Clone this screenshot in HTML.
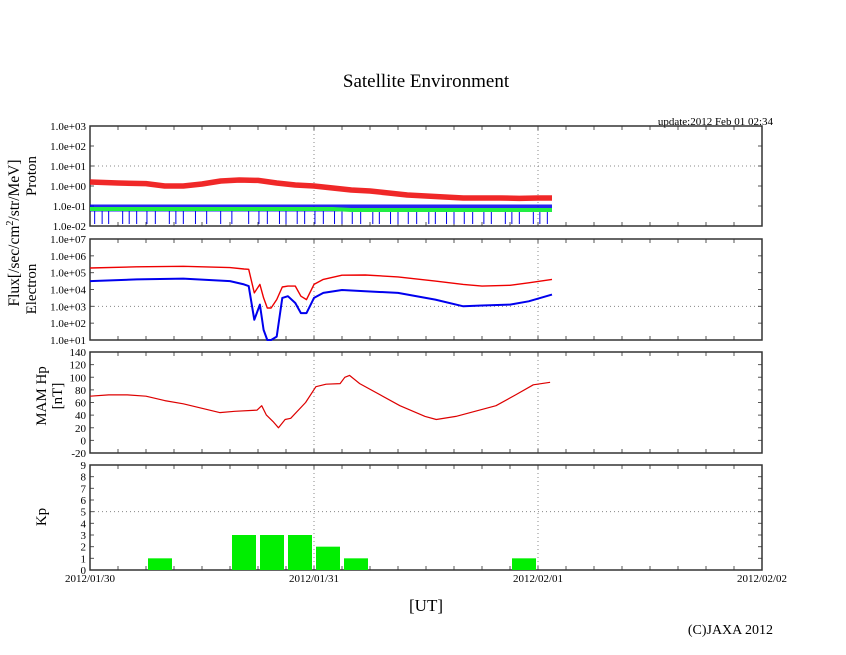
<!DOCTYPE html>
<html><head><meta charset="utf-8"><style>
html,body{margin:0;padding:0;background:#fff;}
svg{display:block;font-family:"Liberation Serif",serif;}
</style></head><body>
<svg id="chart" width="846" height="655" xmlns="http://www.w3.org/2000/svg">
<text x="426" y="87" font-size="19" text-anchor="middle">Satellite Environment</text>
<text x="773" y="125" font-size="11" text-anchor="end">update:2012 Feb 01 02:34</text>
<text x="426" y="611" font-size="17" text-anchor="middle">[UT]</text>
<text x="773" y="634" font-size="14" text-anchor="end">(C)JAXA 2012</text>
<text transform="translate(19,233) rotate(-90)" font-size="15.5" text-anchor="middle">Flux[/sec/cm<tspan font-size="10" dy="-6">2</tspan><tspan dy="6">/str/MeV]</tspan></text>
<text transform="translate(36,176) rotate(-90)" font-size="15" text-anchor="middle">Proton</text>
<text transform="translate(36,289) rotate(-90)" font-size="15" text-anchor="middle">Electron</text>
<text transform="translate(46,396) rotate(-90)" font-size="15" text-anchor="middle">MAM Hp</text>
<text transform="translate(62,396) rotate(-90)" font-size="15" text-anchor="middle">[nT]</text>
<text transform="translate(46,517) rotate(-90)" font-size="15" text-anchor="middle">Kp</text>
<g id="g"></g>
</svg>
<script>
// x data in hours from 2012/01/30 00:00 UT
const xTickLabels = ["2012/01/30","2012/01/31","2012/02/01","2012/02/02"];
const protonTicks = ["1.0e-02","1.0e-01","1.0e+00","1.0e+01","1.0e+02","1.0e+03"];
const electronTicks = ["1.0e+01","1.0e+02","1.0e+03","1.0e+04","1.0e+05","1.0e+06","1.0e+07"];
const hpTicks = [-20,0,20,40,60,80,100,120,140];
const kpTicks = [0,1,2,3,4,5,6,7,8,9];

const protonHours = [0,3,6,8,10,12,14,16,18,20,22,24,26,28,30,32,34,36,38,40,42,44,46,48,49.5];
const protonRedLog = [0.2,0.15,0.12,0.0,0.0,0.1,0.25,0.3,0.28,0.15,0.05,0.0,-0.1,-0.2,-0.25,-0.35,-0.45,-0.5,-0.55,-0.6,-0.6,-0.6,-0.62,-0.6,-0.6];
const protonBlueLog = [-1.1,-1.1,-1.1,-1.1,-1.1,-1.1,-1.1,-1.1,-1.1,-1.1,-1.1,-1.1,-1.1,-1.1,-1.1,-1.1,-1.1,-1.1,-1.1,-1.1,-1.1,-1.1,-1.1,-1.1,-1.1];
const protonGreenLog = [-1.15,-1.15,-1.15,-1.15,-1.15,-1.15,-1.15,-1.15,-1.15,-1.15,-1.15,-1.15,-1.15,-1.2,-1.2,-1.2,-1.2,-1.2,-1.2,-1.2,-1.2,-1.2,-1.2,-1.2,-1.2];
const blueSpikeHours = [0.5,1.3,2,3.5,4.2,5,6.1,7,8.5,9.2,10,11.3,12.5,14,15.2,17,18.1,19,20.3,21,22.2,23,24.1,25,26.2,27,28.1,29,30.3,31,32.2,33,34.1,35,36.3,37,38.2,39,40.1,41,42.2,43,44.5,45.2,46,47.5,48.2,49];

const elecHours = [0,5,10,15,16.5,17,17.6,18.2,18.6,19,19.4,20,20.6,21.2,22,22.6,23.2,24,25,27,29.5,33,37,40,42,45,47,49.5];
const elecRedLog = [5.28,5.35,5.38,5.3,5.22,5.2,3.8,4.3,3.5,2.9,2.9,3.4,4.15,4.2,4.2,3.6,3.4,4.3,4.6,4.85,4.86,4.75,4.5,4.3,4.2,4.25,4.4,4.6];
const elecBlueLog = [4.5,4.6,4.65,4.5,4.3,4.2,2.2,3.1,1.6,1.0,1.0,1.2,3.5,3.6,3.2,2.6,2.6,3.5,3.8,3.97,3.9,3.8,3.4,3.0,3.05,3.1,3.3,3.7];

const hpHours = [0,2,4,6,8,10,13.9,15.5,17.9,18.4,18.9,19.6,20.2,20.9,21.5,23.1,24.2,25.3,26.8,27.3,27.8,28.9,33.2,35.9,37.1,39.2,43.5,45.6,47.5,49.3];
const hpValues = [70,72,72,70,63,58,44,46,48,55,40,30,20,33,35,60,85,89,90,100,103,90,55,38,33,38,55,72,88,92];

const kpValues = [0,0,1,0,0,3,3,3,2,1,0,0,0,0,0,1];

const NS="http://www.w3.org/2000/svg";
const G=document.getElementById('g');
const X0=90,X1=762;
const xs=h=>X0+h*(X1-X0)/72;
function el(tag,attrs,parent){const e=document.createElementNS(NS,tag);for(const k in attrs)e.setAttribute(k,attrs[k]);(parent||G).appendChild(e);return e;}

const panels=[
 {name:'proton',top:126,bot:226,min:-2,max:3},
 {name:'electron',top:239,bot:340,min:1,max:7},
 {name:'mam-hp',top:352,bot:453,min:-20,max:140},
 {name:'kp',top:465,bot:570,min:0,max:9}
];
panels.forEach(p=>{p.y=v=>p.bot-(v-p.min)*(p.bot-p.top)/(p.max-p.min);});

function frame(p,ticks,labels,gridVals){
  [24,48].forEach(h=>{const l=el('line',{x1:xs(h),x2:xs(h),y1:p.top,y2:p.bot,stroke:'#888','stroke-dasharray':'1,3'});
    
    });
  gridVals.forEach(v=>{const l=el('line',{x1:X0,x2:X1,y1:p.y(v),y2:p.y(v),stroke:'#888','stroke-dasharray':'1,3'});
    
    });
  for(let h=3;h<72;h+=3){
    el('line',{x1:xs(h),x2:xs(h),y1:p.top,y2:p.top+4,stroke:'#555'});
    el('line',{x1:xs(h),x2:xs(h),y1:p.bot,y2:p.bot-4,stroke:'#555'});
  }
  ticks.forEach((v,i)=>{
    const y=p.y(v);
    el('line',{x1:X0,x2:X0+4,y1:y,y2:y,stroke:'#555'});
    el('line',{x1:X1,x2:X1-4,y1:y,y2:y,stroke:'#555'});
    const t=el('text',{x:86,y:y+4,'font-size':11,'text-anchor':'end'});
    t.textContent=labels[i];
    
    
  });
  const r=el('rect',{x:X0,y:p.top,width:X1-X0,height:p.bot-p.top,fill:'none',stroke:'#333','stroke-width':1.5});
  
  
}
frame(panels[0],[-2,-1,0,1,2,3],protonTicks,[1]);
frame(panels[1],[1,2,3,4,5,6,7],electronTicks,[3]);
frame(panels[2],hpTicks,hpTicks.map(String),[]);
frame(panels[3],kpTicks,kpTicks.map(String),[5]);

function line(p,hs,vs,color,w,name,op){
  const d=hs.map((h,i)=>(i?'L':'M')+xs(h).toFixed(1)+','+p.y(vs[i]).toFixed(1)).join('');
  const e=el('path',{d:d,fill:'none',stroke:color,'stroke-width':w,'stroke-linejoin':'round','stroke-opacity':op||1});
  
  
}
const P=panels[0];
line(P,protonHours,protonBlueLog,'#0000ee',7,'proton-blue-series',0.85);
blueSpikeHours.forEach(h=>{
  const s=el('line',{x1:xs(h),x2:xs(h),y1:P.y(-1.1),y2:P.y(-1.9),stroke:'#0000ee','stroke-width':1});
  
  
});
line(P,protonHours,protonGreenLog,'#22ee44',4,'proton-green-series');
line(P,protonHours,protonRedLog,'#ee1111',5.5,'proton-red-series',0.9);

const E=panels[1];
line(E,elecHours,elecRedLog,'#ee0000',1.4,'electron-red-series');
line(E,elecHours,elecBlueLog,'#0000ee',2,'electron-blue-series');

line(panels[2],hpHours,hpValues,'#dd0000',1.2,'mam-hp-series');

const K=panels[3];
kpValues.forEach((v,i)=>{
  if(!v)return;
  const b=el('rect',{x:xs(i*3)+2,y:K.y(v),width:xs(3)-X0-4,height:K.bot-K.y(v),fill:'#00ee00'});
  
  
});
xTickLabels.forEach((s,i)=>{
  const t=el('text',{x:xs(i*24),y:582,'font-size':11,'text-anchor':'middle'});
  t.textContent=s;
  
  
});
</script>
</body></html>
